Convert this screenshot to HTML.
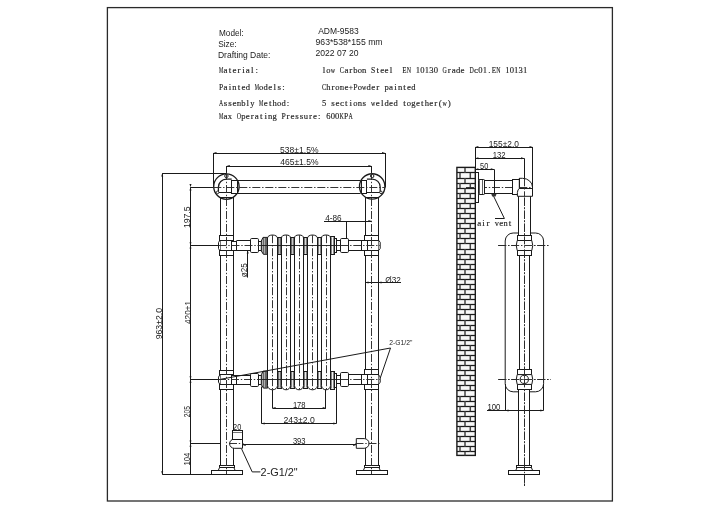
<!DOCTYPE html>
<html><head><meta charset="utf-8"><title>ADM-9583</title><style>
html,body{margin:0;padding:0;background:#fff;width:720px;height:509px;overflow:hidden}
svg{display:block;filter:blur(0.35px)}
.sans{font-family:"Liberation Sans",sans-serif;fill:#222}
.serif{font-family:"Liberation Serif",serif;fill:#1e1e1e;stroke:#1e1e1e;stroke-width:0.15}
.cl{stroke:#2a2a2a;stroke-width:0.95;stroke-dasharray:8 1.8 1.4 1.8}
</style></head><body>
<svg width="720" height="509" viewBox="0 0 720 509">
<rect x="0" y="0" width="720" height="509" fill="#fff"/>
<g stroke="#1a1a1a" fill="none" stroke-linecap="butt">
<rect x="107.4" y="7.6" width="505" height="493.4" fill="none" stroke="#2a2a2a" stroke-width="1.3"/>
</g>
<text x="219.0" y="35.5" class="sans" font-size="8.5" text-anchor="start" textLength="24.6" lengthAdjust="spacingAndGlyphs" >Model:</text>
<text x="218.2" y="46.7" class="sans" font-size="8.5" text-anchor="start" textLength="18.5" lengthAdjust="spacingAndGlyphs" >Size:</text>
<text x="217.95" y="58.3" class="sans" font-size="8.5" text-anchor="start" textLength="52.55" lengthAdjust="spacingAndGlyphs" >Drafting Date:</text>
<text x="318.2" y="33.7" class="sans" font-size="8.5" text-anchor="start" textLength="40.5" lengthAdjust="spacingAndGlyphs" >ADM-9583</text>
<text x="315.5" y="45.1" class="sans" font-size="8.5" text-anchor="start" textLength="67.1" lengthAdjust="spacingAndGlyphs" >963*538*155 mm</text>
<text x="315.5" y="56.2" class="sans" font-size="8.5" text-anchor="start" textLength="43.0" lengthAdjust="spacingAndGlyphs" >2022 07 20</text>
<text class="serif" font-size="9.0" text-anchor="middle" transform="translate(221.04 73.3) scale(0.536 1)">M</text>
<text class="serif" font-size="9.0" text-anchor="middle" x="225.51 229.98 234.45 238.92 243.39 247.86 252.33 256.8" y="73.3">aterial:</text>
<text class="serif" font-size="9.0" text-anchor="middle" transform="translate(328.5 73.3) scale(0.954 1)">o</text>
<text class="serif" font-size="9.0" text-anchor="middle" transform="translate(332.98 73.3) scale(0.66 1)">w</text>
<text class="serif" font-size="9.0" text-anchor="middle" transform="translate(341.92 73.3) scale(0.715 1)">C</text>
<text class="serif" font-size="9.0" text-anchor="middle" transform="translate(355.32 73.3) scale(0.954 1)">b</text>
<text class="serif" font-size="9.0" text-anchor="middle" transform="translate(359.8 73.3) scale(0.954 1)">o</text>
<text class="serif" font-size="9.0" text-anchor="middle" transform="translate(364.26 73.3) scale(0.954 1)">n</text>
<text class="serif" font-size="9.0" text-anchor="middle" transform="translate(373.2 73.3) scale(0.857 1)">S</text>
<text class="serif" font-size="9.0" text-anchor="middle" transform="translate(404.5 73.3) scale(0.781 1)">E</text>
<text class="serif" font-size="9.0" text-anchor="middle" transform="translate(408.97 73.3) scale(0.66 1)">N</text>
<text class="serif" font-size="9.0" text-anchor="middle" transform="translate(417.9 73.3) scale(0.954 1)">1</text>
<text class="serif" font-size="9.0" text-anchor="middle" transform="translate(422.38 73.3) scale(0.954 1)">0</text>
<text class="serif" font-size="9.0" text-anchor="middle" transform="translate(426.85 73.3) scale(0.954 1)">1</text>
<text class="serif" font-size="9.0" text-anchor="middle" transform="translate(431.31 73.3) scale(0.954 1)">3</text>
<text class="serif" font-size="9.0" text-anchor="middle" transform="translate(435.79 73.3) scale(0.954 1)">0</text>
<text class="serif" font-size="9.0" text-anchor="middle" transform="translate(444.73 73.3) scale(0.66 1)">G</text>
<text class="serif" font-size="9.0" text-anchor="middle" transform="translate(458.13 73.3) scale(0.954 1)">d</text>
<text class="serif" font-size="9.0" text-anchor="middle" transform="translate(471.55 73.3) scale(0.66 1)">D</text>
<text class="serif" font-size="9.0" text-anchor="middle" transform="translate(480.49 73.3) scale(0.954 1)">0</text>
<text class="serif" font-size="9.0" text-anchor="middle" transform="translate(484.96 73.3) scale(0.954 1)">1</text>
<text class="serif" font-size="9.0" text-anchor="middle" transform="translate(493.89 73.3) scale(0.781 1)">E</text>
<text class="serif" font-size="9.0" text-anchor="middle" transform="translate(498.37 73.3) scale(0.66 1)">N</text>
<text class="serif" font-size="9.0" text-anchor="middle" transform="translate(507.31 73.3) scale(0.954 1)">1</text>
<text class="serif" font-size="9.0" text-anchor="middle" transform="translate(511.77 73.3) scale(0.954 1)">0</text>
<text class="serif" font-size="9.0" text-anchor="middle" transform="translate(516.25 73.3) scale(0.954 1)">1</text>
<text class="serif" font-size="9.0" text-anchor="middle" transform="translate(520.72 73.3) scale(0.954 1)">3</text>
<text class="serif" font-size="9.0" text-anchor="middle" transform="translate(525.18 73.3) scale(0.954 1)">1</text>
<text class="serif" font-size="9.0" text-anchor="middle" x="324.04 346.38 350.86 377.68 382.14 386.62 391.09 449.19 453.66 462.61 476.01 489.43" y="73.3">larteelraec.</text>
<text class="serif" font-size="9.0" text-anchor="middle" transform="translate(221.04 90.1) scale(0.857 1)">P</text>
<text class="serif" font-size="9.0" text-anchor="middle" transform="translate(234.45 90.1) scale(0.954 1)">n</text>
<text class="serif" font-size="9.0" text-anchor="middle" transform="translate(247.86 90.1) scale(0.954 1)">d</text>
<text class="serif" font-size="9.0" text-anchor="middle" transform="translate(256.8 90.1) scale(0.536 1)">M</text>
<text class="serif" font-size="9.0" text-anchor="middle" transform="translate(261.26 90.1) scale(0.954 1)">o</text>
<text class="serif" font-size="9.0" text-anchor="middle" transform="translate(265.74 90.1) scale(0.954 1)">d</text>
<text class="serif" font-size="9.0" text-anchor="middle" x="225.51 229.98 238.92 243.39 270.2 274.68 279.14 283.62" y="90.1">aiteels:</text>
<text class="serif" font-size="9.0" text-anchor="middle" transform="translate(324.04 90.1) scale(0.715 1)">C</text>
<text class="serif" font-size="9.0" text-anchor="middle" transform="translate(328.5 90.1) scale(0.954 1)">h</text>
<text class="serif" font-size="9.0" text-anchor="middle" transform="translate(337.44 90.1) scale(0.954 1)">o</text>
<text class="serif" font-size="9.0" text-anchor="middle" transform="translate(341.92 90.1) scale(0.613 1)">m</text>
<text class="serif" font-size="9.0" text-anchor="middle" transform="translate(350.86 90.1) scale(0.845 1)">+</text>
<text class="serif" font-size="9.0" text-anchor="middle" transform="translate(355.32 90.1) scale(0.857 1)">P</text>
<text class="serif" font-size="9.0" text-anchor="middle" transform="translate(359.8 90.1) scale(0.954 1)">o</text>
<text class="serif" font-size="9.0" text-anchor="middle" transform="translate(364.26 90.1) scale(0.66 1)">w</text>
<text class="serif" font-size="9.0" text-anchor="middle" transform="translate(368.74 90.1) scale(0.954 1)">d</text>
<text class="serif" font-size="9.0" text-anchor="middle" transform="translate(386.62 90.1) scale(0.954 1)">p</text>
<text class="serif" font-size="9.0" text-anchor="middle" transform="translate(400.02 90.1) scale(0.954 1)">n</text>
<text class="serif" font-size="9.0" text-anchor="middle" transform="translate(413.44 90.1) scale(0.954 1)">d</text>
<text class="serif" font-size="9.0" text-anchor="middle" x="332.98 346.38 373.2 377.68 391.09 395.56 404.5 408.97" y="90.1">reeraite</text>
<text class="serif" font-size="9.0" text-anchor="middle" transform="translate(221.04 106.4) scale(0.66 1)">A</text>
<text class="serif" font-size="9.0" text-anchor="middle" transform="translate(238.92 106.4) scale(0.613 1)">m</text>
<text class="serif" font-size="9.0" text-anchor="middle" transform="translate(243.39 106.4) scale(0.954 1)">b</text>
<text class="serif" font-size="9.0" text-anchor="middle" transform="translate(252.33 106.4) scale(0.954 1)">y</text>
<text class="serif" font-size="9.0" text-anchor="middle" transform="translate(261.26 106.4) scale(0.536 1)">M</text>
<text class="serif" font-size="9.0" text-anchor="middle" transform="translate(274.68 106.4) scale(0.954 1)">h</text>
<text class="serif" font-size="9.0" text-anchor="middle" transform="translate(279.14 106.4) scale(0.954 1)">o</text>
<text class="serif" font-size="9.0" text-anchor="middle" transform="translate(283.62 106.4) scale(0.954 1)">d</text>
<text class="serif" font-size="9.0" text-anchor="middle" x="225.51 229.98 234.45 247.86 265.74 270.2 288.09" y="106.4">sselet:</text>
<text class="serif" font-size="9.0" text-anchor="middle" transform="translate(324.04 106.4) scale(0.954 1)">5</text>
<text class="serif" font-size="9.0" text-anchor="middle" transform="translate(355.32 106.4) scale(0.954 1)">o</text>
<text class="serif" font-size="9.0" text-anchor="middle" transform="translate(359.8 106.4) scale(0.954 1)">n</text>
<text class="serif" font-size="9.0" text-anchor="middle" transform="translate(373.2 106.4) scale(0.66 1)">w</text>
<text class="serif" font-size="9.0" text-anchor="middle" transform="translate(386.62 106.4) scale(0.954 1)">d</text>
<text class="serif" font-size="9.0" text-anchor="middle" transform="translate(395.56 106.4) scale(0.954 1)">d</text>
<text class="serif" font-size="9.0" text-anchor="middle" transform="translate(408.97 106.4) scale(0.954 1)">o</text>
<text class="serif" font-size="9.0" text-anchor="middle" transform="translate(413.44 106.4) scale(0.954 1)">g</text>
<text class="serif" font-size="9.0" text-anchor="middle" transform="translate(426.85 106.4) scale(0.954 1)">h</text>
<text class="serif" font-size="9.0" text-anchor="middle" transform="translate(444.73 106.4) scale(0.66 1)">w</text>
<text class="serif" font-size="9.0" text-anchor="middle" x="332.98 337.44 341.92 346.38 350.86 364.26 377.68 382.14 391.09 404.5 417.9 422.38 431.31 435.79 440.25 449.19" y="106.4">sectiseleteter()</text>
<text class="serif" font-size="9.0" text-anchor="middle" transform="translate(221.04 118.9) scale(0.536 1)">M</text>
<text class="serif" font-size="9.0" text-anchor="middle" transform="translate(229.98 118.9) scale(0.954 1)">x</text>
<text class="serif" font-size="9.0" text-anchor="middle" transform="translate(238.92 118.9) scale(0.66 1)">O</text>
<text class="serif" font-size="9.0" text-anchor="middle" transform="translate(243.39 118.9) scale(0.954 1)">p</text>
<text class="serif" font-size="9.0" text-anchor="middle" transform="translate(270.2 118.9) scale(0.954 1)">n</text>
<text class="serif" font-size="9.0" text-anchor="middle" transform="translate(274.68 118.9) scale(0.954 1)">g</text>
<text class="serif" font-size="9.0" text-anchor="middle" transform="translate(283.62 118.9) scale(0.857 1)">P</text>
<text class="serif" font-size="9.0" text-anchor="middle" transform="translate(305.97 118.9) scale(0.954 1)">u</text>
<text class="serif" font-size="9.0" text-anchor="middle" transform="translate(328.31 118.9) scale(0.954 1)">6</text>
<text class="serif" font-size="9.0" text-anchor="middle" transform="translate(332.79 118.9) scale(0.954 1)">0</text>
<text class="serif" font-size="9.0" text-anchor="middle" transform="translate(337.25 118.9) scale(0.954 1)">0</text>
<text class="serif" font-size="9.0" text-anchor="middle" transform="translate(341.73 118.9) scale(0.66 1)">K</text>
<text class="serif" font-size="9.0" text-anchor="middle" transform="translate(346.19 118.9) scale(0.857 1)">P</text>
<text class="serif" font-size="9.0" text-anchor="middle" transform="translate(350.66 118.9) scale(0.66 1)">A</text>
<text class="serif" font-size="9.0" text-anchor="middle" x="225.51 247.86 252.33 256.8 261.26 265.74 288.09 292.56 297.02 301.5 310.44 314.9 319.38" y="118.9">aeratiressre:</text>
<g stroke="#1a1a1a" fill="none" stroke-linecap="butt">
<line x1="213.3" y1="153.5" x2="385.2" y2="153.5" stroke-width="1.0" />
<polygon points="213.3,153.0 216.5,152.0 216.5,154.0" fill="#1a1a1a" stroke="none"/>
<polygon points="385.2,153.0 382.0,152.0 382.0,154.0" fill="#1a1a1a" stroke="none"/>
<line x1="213.5" y1="153.0" x2="213.5" y2="187.0" stroke-width="1.0" />
<line x1="385.5" y1="153.0" x2="385.5" y2="187.5" stroke-width="1.0" />
<line x1="226.6" y1="166.5" x2="371.6" y2="166.5" stroke-width="1.0" />
<polygon points="226.6,166.0 229.79999999999998,165.0 229.79999999999998,167.0" fill="#1a1a1a" stroke="none"/>
<polygon points="371.6,166.0 368.40000000000003,165.0 368.40000000000003,167.0" fill="#1a1a1a" stroke="none"/>
<line x1="226.5" y1="166.0" x2="226.5" y2="174.2" stroke-width="1.0" />
<line x1="371.5" y1="166.0" x2="371.5" y2="174.2" stroke-width="1.0" />
<line x1="162.5" y1="173.3" x2="162.5" y2="474.4" stroke-width="1.0" />
<polygon points="162.2,173.3 161.2,176.5 163.2,176.5" fill="#1a1a1a" stroke="none"/>
<polygon points="162.2,474.4 161.2,471.2 163.2,471.2" fill="#1a1a1a" stroke="none"/>
<line x1="162.2" y1="173.5" x2="226.0" y2="173.5" stroke-width="1.0" />
<line x1="162.2" y1="474.5" x2="211.5" y2="474.5" stroke-width="1.0" />
<line x1="190.5" y1="187.2" x2="190.5" y2="474.4" stroke-width="1.0" />
<polygon points="190.5,187.2 189.5,190.39999999999998 191.5,190.39999999999998" fill="#1a1a1a" stroke="none"/>
<polygon points="190.5,187.2 189.5,184.0 191.5,184.0" fill="#1a1a1a" stroke="none"/>
<polygon points="190.5,245.4 189.5,248.6 191.5,248.6" fill="#1a1a1a" stroke="none"/>
<polygon points="190.5,245.4 189.5,242.20000000000002 191.5,242.20000000000002" fill="#1a1a1a" stroke="none"/>
<polygon points="190.5,379.5 189.5,382.7 191.5,382.7" fill="#1a1a1a" stroke="none"/>
<polygon points="190.5,379.5 189.5,376.3 191.5,376.3" fill="#1a1a1a" stroke="none"/>
<polygon points="190.5,443.6 189.5,446.8 191.5,446.8" fill="#1a1a1a" stroke="none"/>
<polygon points="190.5,443.6 189.5,440.40000000000003 191.5,440.40000000000003" fill="#1a1a1a" stroke="none"/>
<line x1="190.5" y1="245.5" x2="218.5" y2="245.5" stroke-width="1.0" />
<line x1="190.5" y1="379.5" x2="218.0" y2="379.5" stroke-width="1.0" />
<line x1="190.5" y1="443.5" x2="220.4" y2="443.5" stroke-width="1.0" />
<line x1="190.5" y1="187.5" x2="213.3" y2="187.5" stroke-width="1.0" />
<line x1="324.0" y1="221.5" x2="371.6" y2="221.5" stroke-width="1.0" />
<polygon points="371.6,221.1 368.40000000000003,220.1 368.40000000000003,222.1" fill="#1a1a1a" stroke="none"/>
<line x1="346.5" y1="221.1" x2="346.5" y2="238.4" stroke-width="1.0" />
<line x1="365.3" y1="282.5" x2="401.0" y2="282.5" stroke-width="1.0" />
<polygon points="365.3,282.5 368.5,281.5 368.5,283.5" fill="#1a1a1a" stroke="none"/>
<polygon points="378.3,282.5 381.5,281.5 381.5,283.5" fill="#1a1a1a" stroke="none"/>
<line x1="247.5" y1="250.3" x2="247.5" y2="277.6" stroke-width="1.0" />
<polygon points="247.7,250.3 246.7,253.5 248.7,253.5" fill="#1a1a1a" stroke="none"/>
<line x1="272.5" y1="389.3" x2="272.5" y2="408.0" stroke-width="1.0" />
<line x1="325.5" y1="389.3" x2="325.5" y2="408.0" stroke-width="1.0" />
<line x1="272.4" y1="408.5" x2="325.9" y2="408.5" stroke-width="1.0" />
<polygon points="272.4,408.0 275.59999999999997,407.0 275.59999999999997,409.0" fill="#1a1a1a" stroke="none"/>
<polygon points="325.9,408.0 322.7,407.0 322.7,409.0" fill="#1a1a1a" stroke="none"/>
<line x1="261.5" y1="386.5" x2="261.5" y2="423.4" stroke-width="1.0" />
<line x1="336.5" y1="387.0" x2="336.5" y2="423.4" stroke-width="1.0" />
<line x1="261.4" y1="423.5" x2="336.6" y2="423.5" stroke-width="1.0" />
<polygon points="261.4,423.4 264.59999999999997,422.4 264.59999999999997,424.4" fill="#1a1a1a" stroke="none"/>
<polygon points="336.6,423.4 333.40000000000003,422.4 333.40000000000003,424.4" fill="#1a1a1a" stroke="none"/>
<line x1="242.5" y1="444.5" x2="356.3" y2="444.5" stroke-width="1.0" />
<polygon points="242.5,444.9 245.7,443.9 245.7,445.9" fill="#1a1a1a" stroke="none"/>
<polygon points="356.3,444.9 353.1,443.9 353.1,445.9" fill="#1a1a1a" stroke="none"/>
<line x1="237.5" y1="180.5" x2="360.6" y2="180.5" stroke-width="1.0" />
<line x1="237.5" y1="193.5" x2="360.6" y2="193.5" stroke-width="1.0" />
<circle cx="226.4" cy="186.6" r="12.7" fill="#fff" stroke-width="1.35"/>
<path d="M218.4,192.2 L218.4,187.2 A8,8 0 0 1 226.4,179.2 L231.70000000000002,179.2" fill="none" stroke-width="1.25" />
<rect x="231.5" y="180.5" width="6.0" height="13.0" fill="#fff" stroke-width="1.0" />
<line x1="218.4" y1="192.5" x2="231.70000000000002" y2="192.5" stroke-width="1.0" />
<line x1="220.20000000000002" y1="197.5" x2="233.6" y2="197.5" stroke-width="1.0" />
<circle cx="217.6" cy="192.4" r="1.3" fill="#fff" stroke-width="0.9"/>
<circle cx="226.4" cy="176.0" r="1.7" fill="#fff" stroke-width="1.0"/>
<circle cx="372.2" cy="186.4" r="12.7" fill="#fff" stroke-width="1.35"/>
<path d="M380.2,192.0 L380.2,187.0 A8,8 0 0 0 372.2,179.0 L366.9,179.0" fill="none" stroke-width="1.25" />
<rect x="361.5" y="180.5" width="5.0" height="13.0" fill="#fff" stroke-width="1.0" />
<line x1="366.9" y1="192.5" x2="380.2" y2="192.5" stroke-width="1.0" />
<line x1="365.0" y1="197.5" x2="378.4" y2="197.5" stroke-width="1.0" />
<circle cx="381.0" cy="192.4" r="1.3" fill="#fff" stroke-width="0.9"/>
<circle cx="372.2" cy="176.0" r="1.7" fill="#fff" stroke-width="1.0"/>
<line x1="220.5" y1="197.2" x2="220.5" y2="235.5" stroke-width="1.0" />
<line x1="233.5" y1="197.2" x2="233.5" y2="235.5" stroke-width="1.0" />
<line x1="220.5" y1="255.4" x2="220.5" y2="370.0" stroke-width="1.0" />
<line x1="233.5" y1="255.4" x2="233.5" y2="370.0" stroke-width="1.0" />
<line x1="220.5" y1="389.0" x2="220.5" y2="465.4" stroke-width="1.0" />
<line x1="233.5" y1="389.0" x2="233.5" y2="465.4" stroke-width="1.0" />
<line x1="365.5" y1="197.2" x2="365.5" y2="235.5" stroke-width="1.0" />
<line x1="378.5" y1="197.2" x2="378.5" y2="235.5" stroke-width="1.0" />
<line x1="365.5" y1="255.4" x2="365.5" y2="370.0" stroke-width="1.0" />
<line x1="378.5" y1="255.4" x2="378.5" y2="370.0" stroke-width="1.0" />
<line x1="365.5" y1="389.0" x2="365.5" y2="465.4" stroke-width="1.0" />
<line x1="378.5" y1="389.0" x2="378.5" y2="465.4" stroke-width="1.0" />
<rect x="219.5" y="235.5" width="14.0" height="5.0" fill="#fff" stroke-width="1.0" />
<rect x="219.5" y="250.5" width="14.0" height="5.0" fill="#fff" stroke-width="1.0" />
<path d="M219.8,240.4 L218.5,242.6 L218.5,248.50000000000003 L219.8,250.70000000000002" fill="none" stroke-width="1.0" />
<line x1="220.5" y1="240.4" x2="220.5" y2="250.70000000000002" stroke-width="0.6" />
<line x1="233.5" y1="240.4" x2="233.5" y2="250.70000000000002" stroke-width="0.6" />
<rect x="364.5" y="235.5" width="14.0" height="5.0" fill="#fff" stroke-width="1.0" />
<rect x="364.5" y="250.5" width="14.0" height="5.0" fill="#fff" stroke-width="1.0" />
<path d="M378.5,240.1 L380.2,242.29999999999998 L380.2,248.40000000000003 L378.5,250.60000000000002" fill="none" stroke-width="1.0" />
<line x1="365.5" y1="240.1" x2="365.5" y2="250.60000000000002" stroke-width="0.6" />
<line x1="378.5" y1="240.1" x2="378.5" y2="250.60000000000002" stroke-width="0.6" />
<rect x="219.5" y="370.5" width="14.0" height="4.0" fill="#fff" stroke-width="1.0" />
<rect x="219.5" y="384.5" width="14.0" height="5.0" fill="#fff" stroke-width="1.0" />
<path d="M219.8,374.9 L218.5,377.09999999999997 L218.5,382.1 L219.8,384.3" fill="none" stroke-width="1.0" />
<line x1="220.5" y1="374.9" x2="220.5" y2="384.3" stroke-width="0.6" />
<line x1="233.5" y1="374.9" x2="233.5" y2="384.3" stroke-width="0.6" />
<rect x="364.5" y="369.5" width="14.0" height="5.0" fill="#fff" stroke-width="1.0" />
<rect x="364.5" y="384.5" width="14.0" height="5.0" fill="#fff" stroke-width="1.0" />
<path d="M378.5,374.79999999999995 L380.2,376.99999999999994 L380.2,382.20000000000005 L378.5,384.40000000000003" fill="none" stroke-width="1.0" />
<line x1="365.5" y1="374.79999999999995" x2="365.5" y2="384.40000000000003" stroke-width="0.6" />
<line x1="378.5" y1="374.79999999999995" x2="378.5" y2="384.40000000000003" stroke-width="0.6" />
<rect x="231.5" y="241.5" width="5.0" height="9.0" fill="#fff" stroke-width="1.0" />
<line x1="236.4" y1="240.5" x2="250.4" y2="240.5" stroke-width="1.0" />
<line x1="236.4" y1="250.5" x2="250.4" y2="250.5" stroke-width="1.0" />
<rect x="250.5" y="238.5" width="8.0" height="14.0" fill="#fff" stroke-width="1.0" rx="1.2" />
<rect x="258.5" y="241.5" width="3.0" height="9.0" fill="#fff" stroke-width="1.0" />
<rect x="361.5" y="240.5" width="6.0" height="10.0" fill="#fff" stroke-width="1.0" />
<line x1="348.1" y1="240.5" x2="361.8" y2="240.5" stroke-width="1.0" />
<line x1="348.1" y1="250.5" x2="361.8" y2="250.5" stroke-width="1.0" />
<rect x="340.5" y="238.5" width="8.0" height="14.0" fill="#fff" stroke-width="1.0" rx="1.2" />
<rect x="336.5" y="240.5" width="4.0" height="10.0" fill="#fff" stroke-width="1.0" />
<rect x="231.5" y="375.5" width="5.0" height="9.0" fill="#fff" stroke-width="1.0" />
<line x1="236.4" y1="375.5" x2="250.4" y2="375.5" stroke-width="1.0" />
<line x1="236.4" y1="384.5" x2="250.4" y2="384.5" stroke-width="1.0" />
<rect x="250.5" y="373.5" width="8.0" height="13.0" fill="#fff" stroke-width="1.0" rx="1.2" />
<rect x="258.5" y="375.5" width="3.0" height="9.0" fill="#fff" stroke-width="1.0" />
<rect x="361.5" y="374.5" width="6.0" height="10.0" fill="#fff" stroke-width="1.0" />
<line x1="348.1" y1="374.5" x2="361.8" y2="374.5" stroke-width="1.0" />
<line x1="348.1" y1="384.5" x2="361.8" y2="384.5" stroke-width="1.0" />
<rect x="340.5" y="372.5" width="8.0" height="14.0" fill="#fff" stroke-width="1.0" rx="1.2" />
<rect x="336.5" y="375.5" width="4.0" height="8.0" fill="#fff" stroke-width="1.0" />
<rect x="277.5" y="237.5" width="4.0" height="17.0" fill="#b8b8b8" stroke-width="1.0" />
<line x1="278.5" y1="237.8" x2="278.5" y2="253.8" stroke-width="0.5" />
<line x1="280.5" y1="237.8" x2="280.5" y2="253.8" stroke-width="0.5" />
<rect x="277.5" y="371.5" width="4.0" height="17.0" fill="#c8c8c8" stroke-width="1.0" />
<line x1="278.5" y1="371.6" x2="278.5" y2="387.5" stroke-width="0.5" />
<line x1="280.5" y1="371.6" x2="280.5" y2="387.5" stroke-width="0.5" />
<rect x="290.5" y="237.5" width="4.0" height="17.0" fill="#c8c8c8" stroke-width="1.0" />
<line x1="291.5" y1="237.8" x2="291.5" y2="253.8" stroke-width="0.5" />
<line x1="293.5" y1="237.8" x2="293.5" y2="253.8" stroke-width="0.5" />
<rect x="290.5" y="371.5" width="4.0" height="17.0" fill="#e4e4e4" stroke-width="1.0" />
<line x1="291.5" y1="371.6" x2="291.5" y2="387.5" stroke-width="0.5" />
<line x1="293.5" y1="371.6" x2="293.5" y2="387.5" stroke-width="0.5" />
<rect x="303.5" y="237.5" width="4.0" height="17.0" fill="#d8d8d8" stroke-width="1.0" />
<line x1="304.5" y1="237.8" x2="304.5" y2="253.8" stroke-width="0.5" />
<line x1="306.5" y1="237.8" x2="306.5" y2="253.8" stroke-width="0.5" />
<rect x="303.5" y="371.5" width="4.0" height="17.0" fill="#eeeeee" stroke-width="1.0" />
<line x1="304.5" y1="371.6" x2="304.5" y2="387.5" stroke-width="0.5" />
<line x1="306.5" y1="371.6" x2="306.5" y2="387.5" stroke-width="0.5" />
<rect x="317.5" y="237.5" width="4.0" height="17.0" fill="#f0f0f0" stroke-width="1.0" />
<line x1="318.5" y1="237.8" x2="318.5" y2="253.8" stroke-width="0.5" />
<line x1="320.5" y1="237.8" x2="320.5" y2="253.8" stroke-width="0.5" />
<rect x="317.5" y="371.5" width="4.0" height="17.0" fill="#f6f6f6" stroke-width="1.0" />
<line x1="318.5" y1="371.6" x2="318.5" y2="387.5" stroke-width="0.5" />
<line x1="320.5" y1="371.6" x2="320.5" y2="387.5" stroke-width="0.5" />
<polygon points="261.3,241.0 263.0,237.4 267.6,237.4 267.6,254.3 263.4,254.3 261.3,250.9" fill="#b0b0b0" stroke-width="1.0"/>
<line x1="263.5" y1="237.9" x2="263.5" y2="253.8" stroke-width="0.5" />
<line x1="265.5" y1="237.9" x2="265.5" y2="253.8" stroke-width="0.5" />
<line x1="266.5" y1="237.9" x2="266.5" y2="253.8" stroke-width="0.5" />
<polygon points="261.3,374.8 263.0,371.20000000000005 267.6,371.20000000000005 267.6,388.1 263.4,388.1 261.3,384.70000000000005" fill="#b0b0b0" stroke-width="1.0"/>
<line x1="263.5" y1="371.70000000000005" x2="263.5" y2="387.6" stroke-width="0.5" />
<line x1="265.5" y1="371.70000000000005" x2="265.5" y2="387.6" stroke-width="0.5" />
<line x1="266.5" y1="371.70000000000005" x2="266.5" y2="387.6" stroke-width="0.5" />
<rect x="330.5" y="236.5" width="4.0" height="18.0" fill="#f4f4f4" stroke-width="1.0" />
<line x1="331.5" y1="237.3" x2="331.5" y2="253.9" stroke-width="0.5" />
<line x1="333.5" y1="237.3" x2="333.5" y2="253.9" stroke-width="0.5" />
<rect x="334.5" y="238.5" width="2.0" height="14.0" fill="#fff" stroke-width="1.0" />
<rect x="330.5" y="371.5" width="4.0" height="18.0" fill="#f4f4f4" stroke-width="1.0" />
<line x1="331.5" y1="371.9" x2="331.5" y2="388.5" stroke-width="0.5" />
<line x1="333.5" y1="371.9" x2="333.5" y2="388.5" stroke-width="0.5" />
<rect x="334.5" y="373.5" width="2.0" height="14.0" fill="#fff" stroke-width="1.0" />
<path d="M267.5,385.5 L267.5,238.0 A5.0,3 0 0 1 277.5,238.0 L277.5,385.5 A5.0,4.3 0 0 1 267.5,385.5 Z" fill="#fff" stroke-width="1.0" />
<line x1="272.5" y1="235.2" x2="272.5" y2="389.6" class="cl"/>
<path d="M281.5,385.5 L281.5,238.0 A4.5,3 0 0 1 290.5,238.0 L290.5,385.5 A4.5,4.3 0 0 1 281.5,385.5 Z" fill="#fff" stroke-width="1.0" />
<line x1="286.5" y1="235.2" x2="286.5" y2="389.6" class="cl"/>
<path d="M294.5,385.5 L294.5,238.0 A4.5,3 0 0 1 303.5,238.0 L303.5,385.5 A4.5,4.3 0 0 1 294.5,385.5 Z" fill="#fff" stroke-width="1.0" />
<line x1="299.5" y1="235.2" x2="299.5" y2="389.6" class="cl"/>
<path d="M307.5,385.5 L307.5,238.0 A5.0,3 0 0 1 317.5,238.0 L317.5,385.5 A5.0,4.3 0 0 1 307.5,385.5 Z" fill="#fff" stroke-width="1.0" />
<line x1="312.5" y1="235.2" x2="312.5" y2="389.6" class="cl"/>
<path d="M321.5,385.5 L321.5,238.0 A4.5,3 0 0 1 330.5,238.0 L330.5,385.5 A4.5,4.3 0 0 1 321.5,385.5 Z" fill="#fff" stroke-width="1.0" />
<line x1="326.5" y1="235.2" x2="326.5" y2="389.6" class="cl"/>
<line x1="261.4" y1="245.5" x2="340.3" y2="245.5" stroke-width="0.9" />
<line x1="261.4" y1="379.5" x2="340.3" y2="379.5" stroke-width="0.9" />
<rect x="219.5" y="465.5" width="15.0" height="2.0" fill="#fff" stroke-width="1.0" />
<polygon points="219.60000000000002,467.5 233.8,467.5 235.20000000000002,470.5 218.20000000000002,470.5" fill="#fff" stroke-width="1.0"/>
<rect x="211.5" y="470.5" width="31.0" height="4.0" fill="#fff" stroke-width="1.0" />
<rect x="364.5" y="465.5" width="15.0" height="2.0" fill="#fff" stroke-width="1.0" />
<polygon points="364.7,467.5 378.9,467.5 380.29999999999995,470.5 363.29999999999995,470.5" fill="#fff" stroke-width="1.0"/>
<rect x="356.5" y="470.5" width="31.0" height="4.0" fill="#fff" stroke-width="1.0" />
<line x1="213.3" y1="187.5" x2="384.6" y2="187.5" class="cl"/>
<line x1="226.5" y1="172" x2="226.5" y2="474" class="cl"/>
<line x1="371.5" y1="172" x2="371.5" y2="474" class="cl"/>
<line x1="218.5" y1="245.5" x2="261.4" y2="245.5" class="cl"/>
<line x1="340.3" y1="245.5" x2="380.0" y2="245.5" class="cl"/>
<line x1="218.0" y1="379.5" x2="261.4" y2="379.5" class="cl"/>
<line x1="340.3" y1="379.5" x2="380.0" y2="379.5" class="cl"/>
<path d="M221,379.2 L390.5,348 L380.2,378.2" fill="none" stroke-width="1.0" />
<path d="M241.6,448.9 L252.2,471.9 L260.4,471.9" fill="none" stroke-width="1.0" />
<path d="M242.5,439.1 L234.2,439.1 A4.6,4.6 0 0 0 234.2,448.3 L242.5,448.3 Z" fill="#fff" stroke-width="1.0" />
<rect x="232.5" y="430.5" width="10.0" height="9.0" fill="#fff" stroke-width="1.0" />
<line x1="232.7" y1="432.5" x2="242.5" y2="432.5" stroke-width="0.6" />
<path d="M356.3,438.6 L364.2,438.6 A4.85,4.85 0 0 1 364.2,448.3 L356.3,448.3 Z" fill="#fff" stroke-width="1.0" />
<line x1="229.0" y1="443.5" x2="243.5" y2="443.5" class="cl"/>
<line x1="355.5" y1="443.5" x2="379.5" y2="443.5" class="cl"/>
<rect x="456.9" y="167.4" width="18.4" height="288.0" fill="#f8f8f8" stroke-width="1.4"/>
<line x1="456.9" y1="172.5" x2="475.3" y2="172.5" stroke-width="1.25"/>
<line x1="456.9" y1="178.5" x2="475.3" y2="178.5" stroke-width="1.25"/>
<line x1="456.9" y1="183.5" x2="475.3" y2="183.5" stroke-width="1.25"/>
<line x1="456.9" y1="188.5" x2="475.3" y2="188.5" stroke-width="1.25"/>
<line x1="456.9" y1="193.5" x2="475.3" y2="193.5" stroke-width="1.25"/>
<line x1="456.9" y1="198.5" x2="475.3" y2="198.5" stroke-width="1.25"/>
<line x1="456.9" y1="203.5" x2="475.3" y2="203.5" stroke-width="1.25"/>
<line x1="456.9" y1="208.5" x2="475.3" y2="208.5" stroke-width="1.25"/>
<line x1="456.9" y1="213.5" x2="475.3" y2="213.5" stroke-width="1.25"/>
<line x1="456.9" y1="218.5" x2="475.3" y2="218.5" stroke-width="1.25"/>
<line x1="456.9" y1="223.5" x2="475.3" y2="223.5" stroke-width="1.25"/>
<line x1="456.9" y1="228.5" x2="475.3" y2="228.5" stroke-width="1.25"/>
<line x1="456.9" y1="233.5" x2="475.3" y2="233.5" stroke-width="1.25"/>
<line x1="456.9" y1="238.5" x2="475.3" y2="238.5" stroke-width="1.25"/>
<line x1="456.9" y1="243.5" x2="475.3" y2="243.5" stroke-width="1.25"/>
<line x1="456.9" y1="249.5" x2="475.3" y2="249.5" stroke-width="1.25"/>
<line x1="456.9" y1="254.5" x2="475.3" y2="254.5" stroke-width="1.25"/>
<line x1="456.9" y1="259.5" x2="475.3" y2="259.5" stroke-width="1.25"/>
<line x1="456.9" y1="264.5" x2="475.3" y2="264.5" stroke-width="1.25"/>
<line x1="456.9" y1="269.5" x2="475.3" y2="269.5" stroke-width="1.25"/>
<line x1="456.9" y1="274.5" x2="475.3" y2="274.5" stroke-width="1.25"/>
<line x1="456.9" y1="279.5" x2="475.3" y2="279.5" stroke-width="1.25"/>
<line x1="456.9" y1="284.5" x2="475.3" y2="284.5" stroke-width="1.25"/>
<line x1="456.9" y1="289.5" x2="475.3" y2="289.5" stroke-width="1.25"/>
<line x1="456.9" y1="294.5" x2="475.3" y2="294.5" stroke-width="1.25"/>
<line x1="456.9" y1="299.5" x2="475.3" y2="299.5" stroke-width="1.25"/>
<line x1="456.9" y1="304.5" x2="475.3" y2="304.5" stroke-width="1.25"/>
<line x1="456.9" y1="309.5" x2="475.3" y2="309.5" stroke-width="1.25"/>
<line x1="456.9" y1="314.5" x2="475.3" y2="314.5" stroke-width="1.25"/>
<line x1="456.9" y1="320.5" x2="475.3" y2="320.5" stroke-width="1.25"/>
<line x1="456.9" y1="325.5" x2="475.3" y2="325.5" stroke-width="1.25"/>
<line x1="456.9" y1="330.5" x2="475.3" y2="330.5" stroke-width="1.25"/>
<line x1="456.9" y1="335.5" x2="475.3" y2="335.5" stroke-width="1.25"/>
<line x1="456.9" y1="340.5" x2="475.3" y2="340.5" stroke-width="1.25"/>
<line x1="456.9" y1="345.5" x2="475.3" y2="345.5" stroke-width="1.25"/>
<line x1="456.9" y1="350.5" x2="475.3" y2="350.5" stroke-width="1.25"/>
<line x1="456.9" y1="355.5" x2="475.3" y2="355.5" stroke-width="1.25"/>
<line x1="456.9" y1="360.5" x2="475.3" y2="360.5" stroke-width="1.25"/>
<line x1="456.9" y1="365.5" x2="475.3" y2="365.5" stroke-width="1.25"/>
<line x1="456.9" y1="370.5" x2="475.3" y2="370.5" stroke-width="1.25"/>
<line x1="456.9" y1="375.5" x2="475.3" y2="375.5" stroke-width="1.25"/>
<line x1="456.9" y1="380.5" x2="475.3" y2="380.5" stroke-width="1.25"/>
<line x1="456.9" y1="385.5" x2="475.3" y2="385.5" stroke-width="1.25"/>
<line x1="456.9" y1="390.5" x2="475.3" y2="390.5" stroke-width="1.25"/>
<line x1="456.9" y1="396.5" x2="475.3" y2="396.5" stroke-width="1.25"/>
<line x1="456.9" y1="401.5" x2="475.3" y2="401.5" stroke-width="1.25"/>
<line x1="456.9" y1="406.5" x2="475.3" y2="406.5" stroke-width="1.25"/>
<line x1="456.9" y1="411.5" x2="475.3" y2="411.5" stroke-width="1.25"/>
<line x1="456.9" y1="416.5" x2="475.3" y2="416.5" stroke-width="1.25"/>
<line x1="456.9" y1="421.5" x2="475.3" y2="421.5" stroke-width="1.25"/>
<line x1="456.9" y1="426.5" x2="475.3" y2="426.5" stroke-width="1.25"/>
<line x1="456.9" y1="431.5" x2="475.3" y2="431.5" stroke-width="1.25"/>
<line x1="456.9" y1="436.5" x2="475.3" y2="436.5" stroke-width="1.25"/>
<line x1="456.9" y1="441.5" x2="475.3" y2="441.5" stroke-width="1.25"/>
<line x1="456.9" y1="446.5" x2="475.3" y2="446.5" stroke-width="1.25"/>
<line x1="456.9" y1="451.5" x2="475.3" y2="451.5" stroke-width="1.25"/>
<line x1="465.0" y1="167.9" x2="465.0" y2="172.97" stroke-width="1.5" stroke="#444"/>
<line x1="460.0" y1="172.97" x2="460.0" y2="178.04" stroke-width="1.5" stroke="#444"/>
<line x1="470.3" y1="172.97" x2="470.3" y2="178.04" stroke-width="1.5" stroke="#444"/>
<line x1="465.0" y1="178.04" x2="465.0" y2="183.11" stroke-width="1.5" stroke="#444"/>
<line x1="460.0" y1="183.11" x2="460.0" y2="188.18" stroke-width="1.5" stroke="#444"/>
<line x1="470.3" y1="183.11" x2="470.3" y2="188.18" stroke-width="1.5" stroke="#444"/>
<line x1="465.0" y1="188.18" x2="465.0" y2="193.25" stroke-width="1.5" stroke="#444"/>
<line x1="460.0" y1="193.25" x2="460.0" y2="198.32" stroke-width="1.5" stroke="#444"/>
<line x1="470.3" y1="193.25" x2="470.3" y2="198.32" stroke-width="1.5" stroke="#444"/>
<line x1="465.0" y1="198.32" x2="465.0" y2="203.39" stroke-width="1.5" stroke="#444"/>
<line x1="460.0" y1="203.39" x2="460.0" y2="208.46" stroke-width="1.5" stroke="#444"/>
<line x1="470.3" y1="203.39" x2="470.3" y2="208.46" stroke-width="1.5" stroke="#444"/>
<line x1="465.0" y1="208.46" x2="465.0" y2="213.53" stroke-width="1.5" stroke="#444"/>
<line x1="460.0" y1="213.53" x2="460.0" y2="218.6" stroke-width="1.5" stroke="#444"/>
<line x1="470.3" y1="213.53" x2="470.3" y2="218.6" stroke-width="1.5" stroke="#444"/>
<line x1="465.0" y1="218.6" x2="465.0" y2="223.67" stroke-width="1.5" stroke="#444"/>
<line x1="460.0" y1="223.67" x2="460.0" y2="228.74" stroke-width="1.5" stroke="#444"/>
<line x1="470.3" y1="223.67" x2="470.3" y2="228.74" stroke-width="1.5" stroke="#444"/>
<line x1="465.0" y1="228.74" x2="465.0" y2="233.81" stroke-width="1.5" stroke="#444"/>
<line x1="460.0" y1="233.81" x2="460.0" y2="238.88" stroke-width="1.5" stroke="#444"/>
<line x1="470.3" y1="233.81" x2="470.3" y2="238.88" stroke-width="1.5" stroke="#444"/>
<line x1="465.0" y1="238.88" x2="465.0" y2="243.95" stroke-width="1.5" stroke="#444"/>
<line x1="460.0" y1="243.95" x2="460.0" y2="249.02" stroke-width="1.5" stroke="#444"/>
<line x1="470.3" y1="243.95" x2="470.3" y2="249.02" stroke-width="1.5" stroke="#444"/>
<line x1="465.0" y1="249.02" x2="465.0" y2="254.09" stroke-width="1.5" stroke="#444"/>
<line x1="460.0" y1="254.09" x2="460.0" y2="259.16" stroke-width="1.5" stroke="#444"/>
<line x1="470.3" y1="254.09" x2="470.3" y2="259.16" stroke-width="1.5" stroke="#444"/>
<line x1="465.0" y1="259.16" x2="465.0" y2="264.23" stroke-width="1.5" stroke="#444"/>
<line x1="460.0" y1="264.23" x2="460.0" y2="269.3" stroke-width="1.5" stroke="#444"/>
<line x1="470.3" y1="264.23" x2="470.3" y2="269.3" stroke-width="1.5" stroke="#444"/>
<line x1="465.0" y1="269.3" x2="465.0" y2="274.37" stroke-width="1.5" stroke="#444"/>
<line x1="460.0" y1="274.37" x2="460.0" y2="279.44" stroke-width="1.5" stroke="#444"/>
<line x1="470.3" y1="274.37" x2="470.3" y2="279.44" stroke-width="1.5" stroke="#444"/>
<line x1="465.0" y1="279.44" x2="465.0" y2="284.51" stroke-width="1.5" stroke="#444"/>
<line x1="460.0" y1="284.51" x2="460.0" y2="289.58" stroke-width="1.5" stroke="#444"/>
<line x1="470.3" y1="284.51" x2="470.3" y2="289.58" stroke-width="1.5" stroke="#444"/>
<line x1="465.0" y1="289.58" x2="465.0" y2="294.65" stroke-width="1.5" stroke="#444"/>
<line x1="460.0" y1="294.65" x2="460.0" y2="299.72" stroke-width="1.5" stroke="#444"/>
<line x1="470.3" y1="294.65" x2="470.3" y2="299.72" stroke-width="1.5" stroke="#444"/>
<line x1="465.0" y1="299.72" x2="465.0" y2="304.79" stroke-width="1.5" stroke="#444"/>
<line x1="460.0" y1="304.79" x2="460.0" y2="309.86" stroke-width="1.5" stroke="#444"/>
<line x1="470.3" y1="304.79" x2="470.3" y2="309.86" stroke-width="1.5" stroke="#444"/>
<line x1="465.0" y1="309.86" x2="465.0" y2="314.93" stroke-width="1.5" stroke="#444"/>
<line x1="460.0" y1="314.93" x2="460.0" y2="320.0" stroke-width="1.5" stroke="#444"/>
<line x1="470.3" y1="314.93" x2="470.3" y2="320.0" stroke-width="1.5" stroke="#444"/>
<line x1="465.0" y1="320.0" x2="465.0" y2="325.07" stroke-width="1.5" stroke="#444"/>
<line x1="460.0" y1="325.07" x2="460.0" y2="330.14" stroke-width="1.5" stroke="#444"/>
<line x1="470.3" y1="325.07" x2="470.3" y2="330.14" stroke-width="1.5" stroke="#444"/>
<line x1="465.0" y1="330.14" x2="465.0" y2="335.21" stroke-width="1.5" stroke="#444"/>
<line x1="460.0" y1="335.21" x2="460.0" y2="340.28" stroke-width="1.5" stroke="#444"/>
<line x1="470.3" y1="335.21" x2="470.3" y2="340.28" stroke-width="1.5" stroke="#444"/>
<line x1="465.0" y1="340.28" x2="465.0" y2="345.35" stroke-width="1.5" stroke="#444"/>
<line x1="460.0" y1="345.35" x2="460.0" y2="350.42" stroke-width="1.5" stroke="#444"/>
<line x1="470.3" y1="345.35" x2="470.3" y2="350.42" stroke-width="1.5" stroke="#444"/>
<line x1="465.0" y1="350.42" x2="465.0" y2="355.49" stroke-width="1.5" stroke="#444"/>
<line x1="460.0" y1="355.49" x2="460.0" y2="360.56" stroke-width="1.5" stroke="#444"/>
<line x1="470.3" y1="355.49" x2="470.3" y2="360.56" stroke-width="1.5" stroke="#444"/>
<line x1="465.0" y1="360.56" x2="465.0" y2="365.63" stroke-width="1.5" stroke="#444"/>
<line x1="460.0" y1="365.63" x2="460.0" y2="370.7" stroke-width="1.5" stroke="#444"/>
<line x1="470.3" y1="365.63" x2="470.3" y2="370.7" stroke-width="1.5" stroke="#444"/>
<line x1="465.0" y1="370.7" x2="465.0" y2="375.77" stroke-width="1.5" stroke="#444"/>
<line x1="460.0" y1="375.77" x2="460.0" y2="380.84" stroke-width="1.5" stroke="#444"/>
<line x1="470.3" y1="375.77" x2="470.3" y2="380.84" stroke-width="1.5" stroke="#444"/>
<line x1="465.0" y1="380.84" x2="465.0" y2="385.91" stroke-width="1.5" stroke="#444"/>
<line x1="460.0" y1="385.91" x2="460.0" y2="390.98" stroke-width="1.5" stroke="#444"/>
<line x1="470.3" y1="385.91" x2="470.3" y2="390.98" stroke-width="1.5" stroke="#444"/>
<line x1="465.0" y1="390.98" x2="465.0" y2="396.05" stroke-width="1.5" stroke="#444"/>
<line x1="460.0" y1="396.05" x2="460.0" y2="401.12" stroke-width="1.5" stroke="#444"/>
<line x1="470.3" y1="396.05" x2="470.3" y2="401.12" stroke-width="1.5" stroke="#444"/>
<line x1="465.0" y1="401.12" x2="465.0" y2="406.19" stroke-width="1.5" stroke="#444"/>
<line x1="460.0" y1="406.19" x2="460.0" y2="411.26" stroke-width="1.5" stroke="#444"/>
<line x1="470.3" y1="406.19" x2="470.3" y2="411.26" stroke-width="1.5" stroke="#444"/>
<line x1="465.0" y1="411.26" x2="465.0" y2="416.33" stroke-width="1.5" stroke="#444"/>
<line x1="460.0" y1="416.33" x2="460.0" y2="421.4" stroke-width="1.5" stroke="#444"/>
<line x1="470.3" y1="416.33" x2="470.3" y2="421.4" stroke-width="1.5" stroke="#444"/>
<line x1="465.0" y1="421.4" x2="465.0" y2="426.47" stroke-width="1.5" stroke="#444"/>
<line x1="460.0" y1="426.47" x2="460.0" y2="431.54" stroke-width="1.5" stroke="#444"/>
<line x1="470.3" y1="426.47" x2="470.3" y2="431.54" stroke-width="1.5" stroke="#444"/>
<line x1="465.0" y1="431.54" x2="465.0" y2="436.61" stroke-width="1.5" stroke="#444"/>
<line x1="460.0" y1="436.61" x2="460.0" y2="441.68" stroke-width="1.5" stroke="#444"/>
<line x1="470.3" y1="436.61" x2="470.3" y2="441.68" stroke-width="1.5" stroke="#444"/>
<line x1="465.0" y1="441.68" x2="465.0" y2="446.75" stroke-width="1.5" stroke="#444"/>
<line x1="460.0" y1="446.75" x2="460.0" y2="451.82" stroke-width="1.5" stroke="#444"/>
<line x1="470.3" y1="446.75" x2="470.3" y2="451.82" stroke-width="1.5" stroke="#444"/>
<line x1="465.0" y1="451.82" x2="465.0" y2="455.4" stroke-width="1.5" stroke="#444"/>
<line x1="524.5" y1="172" x2="524.5" y2="486" class="cl"/>
<line x1="466" y1="187.5" x2="533" y2="187.5" class="cl"/>
<line x1="498.2" y1="245.5" x2="550.0" y2="245.5" class="cl"/>
<line x1="498.3" y1="379.5" x2="550.7" y2="379.5" class="cl"/>
<path d="M518.5,233 L513.2,233 A8,8 0 0 0 505.2,241 L505.2,383.8 A8,8 0 0 0 513.2,391.8 L518.9,391.8 M529.9,391.8 L535.6,391.8 A8,8 0 0 0 543.6,383.8 L543.6,241 A8,8 0 0 0 535.6,233 L530.4,233" fill="none" stroke-width="1.0" />
<rect x="475.5" y="172.5" width="3.0" height="30.0" fill="#fff" stroke-width="1.0" />
<rect x="478.5" y="179.5" width="6.0" height="15.0" fill="#fff" stroke-width="1.0" rx="0.8" />
<line x1="479.5" y1="179.3" x2="479.5" y2="194.2" stroke-width="0.7" />
<line x1="482.5" y1="179.3" x2="482.5" y2="194.2" stroke-width="0.7" />
<line x1="484.2" y1="180.5" x2="512.5" y2="180.5" stroke-width="1.0" />
<line x1="484.2" y1="193.5" x2="512.5" y2="193.5" stroke-width="1.0" />
<rect x="512.5" y="179.5" width="7.0" height="15.0" fill="#fff" stroke-width="1.0" />
<path d="M519.3,178.3 L522.5,178.3 A10,9 0 0 1 532.5,187.3 L532.5,196.3 L517.4,196.3 L517.4,192.5 Q517.8,189 519.3,188.6 Z" fill="#fff" stroke-width="1.0" />
<line x1="519.3" y1="188.5" x2="532.5" y2="188.5" stroke-width="1.0" />
<line x1="519.5" y1="178.3" x2="519.5" y2="188.6" stroke-width="1.0" />
<polygon points="491.3,194.0 496.5,194.0 495.6,196.4 492.2,196.4" fill="#333" stroke="none"/>
<line x1="475.2" y1="147.5" x2="532.7" y2="147.5" stroke-width="1.0" />
<polygon points="475.2,147.0 478.4,146.0 478.4,148.0" fill="#1a1a1a" stroke="none"/>
<polygon points="532.7,147.0 529.5,146.0 529.5,148.0" fill="#1a1a1a" stroke="none"/>
<line x1="475.5" y1="147.0" x2="475.5" y2="167.4" stroke-width="1.0" />
<line x1="532.5" y1="147.0" x2="532.5" y2="188.0" stroke-width="1.0" />
<line x1="475.2" y1="158.5" x2="524.2" y2="158.5" stroke-width="1.0" />
<polygon points="475.2,158.3 478.4,157.3 478.4,159.3" fill="#1a1a1a" stroke="none"/>
<polygon points="524.2,158.3 521.0,157.3 521.0,159.3" fill="#1a1a1a" stroke="none"/>
<line x1="524.5" y1="158.3" x2="524.5" y2="179.0" stroke-width="1.0" />
<line x1="475.2" y1="169.5" x2="494.0" y2="169.5" stroke-width="1.0" />
<polygon points="475.2,169.3 478.4,168.3 478.4,170.3" fill="#1a1a1a" stroke="none"/>
<polygon points="494.0,169.3 490.8,168.3 490.8,170.3" fill="#1a1a1a" stroke="none"/>
<line x1="494.5" y1="169.3" x2="494.5" y2="193.6" stroke-width="1.0" />
<path d="M493.6,196.2 L504.4,218.5 L495.0,218.5" fill="none" stroke-width="1.0" />
<line x1="487.0" y1="410.5" x2="543.6" y2="410.5" stroke-width="1.0" />
<polygon points="505.3,410.4 508.5,409.4 508.5,411.4" fill="#1a1a1a" stroke="none"/>
<polygon points="543.6,410.4 540.4,409.4 540.4,411.4" fill="#1a1a1a" stroke="none"/>
<line x1="505.5" y1="384.0" x2="505.5" y2="410.4" stroke-width="1.0" />
<line x1="543.5" y1="384.0" x2="543.5" y2="410.4" stroke-width="1.0" />
<line x1="518.5" y1="196.3" x2="518.5" y2="235.3" stroke-width="1.0" />
<line x1="530.5" y1="196.3" x2="530.5" y2="235.3" stroke-width="1.0" />
<line x1="519.5" y1="255.3" x2="519.5" y2="369.4" stroke-width="1.0" />
<line x1="529.5" y1="255.3" x2="529.5" y2="369.4" stroke-width="1.0" />
<line x1="518.5" y1="389.2" x2="518.5" y2="465.3" stroke-width="1.0" />
<line x1="529.5" y1="389.2" x2="529.5" y2="465.3" stroke-width="1.0" />
<rect x="517.5" y="235.5" width="14.0" height="5.0" fill="#fff" stroke-width="1.0" />
<rect x="517.5" y="250.5" width="14.0" height="5.0" fill="#fff" stroke-width="1.0" />
<path d="M517.2,240.5 Q515.3,245.5 517.2,250.5 L531.8,250.5 Q533.7,245.5 531.8,240.5 Z" fill="#fff" stroke-width="1.0" />
<rect x="517.5" y="369.5" width="14.0" height="5.0" fill="#fff" stroke-width="1.0" />
<rect x="517.5" y="384.5" width="14.0" height="5.0" fill="#fff" stroke-width="1.0" />
<path d="M517.2,374.59999999999997 Q515.3,379.5 517.2,384.4 L531.8,384.4 Q533.7,379.5 531.8,374.59999999999997 Z" fill="#fff" stroke-width="1.0" />
<circle cx="524.3" cy="379.4" r="4.1" fill="#fff" stroke-width="1.0"/>
<line x1="520.2" y1="379.5" x2="528.4" y2="379.5" stroke-width="0.6" />
<line x1="524.5" y1="375.3" x2="524.5" y2="383.5" stroke-width="0.6" />
<line x1="498.3" y1="379.5" x2="550.7" y2="379.5" class="cl"/>
<line x1="498.2" y1="245.5" x2="550.0" y2="245.5" class="cl"/>
<line x1="524.5" y1="197.4" x2="524.5" y2="486" class="cl"/>
<rect x="516.5" y="465.5" width="15.0" height="2.0" fill="#fff" stroke-width="1.0" />
<polygon points="517.0999999999999,467.5 531.3,467.5 532.6999999999999,470.5 515.6999999999999,470.5" fill="#fff" stroke-width="1.0"/>
<rect x="508.5" y="470.5" width="31.0" height="4.0" fill="#fff" stroke-width="1.0" />
<line x1="524.5" y1="462" x2="524.5" y2="486" class="cl"/>
<line x1="519.3" y1="187.5" x2="532.5" y2="187.5" class="cl"/>
<line x1="524.5" y1="178.3" x2="524.5" y2="196.3" class="cl"/>
</g>
<text x="280.1" y="153.0" class="sans" font-size="8.6" text-anchor="start" textLength="38.4" lengthAdjust="spacingAndGlyphs" >538±1.5%</text>
<text x="280.2" y="165.4" class="sans" font-size="8.6" text-anchor="start" textLength="38.3" lengthAdjust="spacingAndGlyphs" >465±1.5%</text>
<text x="190.2" y="228.1" class="sans" font-size="8.6" text-anchor="start" textLength="21.7" lengthAdjust="spacingAndGlyphs" transform="rotate(-90 190.2 228.1)" >197.5</text>
<text x="190.5" y="324.0" class="sans" font-size="8.6" text-anchor="start" textLength="23.0" lengthAdjust="spacingAndGlyphs" transform="rotate(-90 190.5 324.0)" >420±1</text>
<text x="162.1" y="339.3" class="sans" font-size="8.6" text-anchor="start" textLength="31.4" lengthAdjust="spacingAndGlyphs" transform="rotate(-90 162.1 339.3)" >963±2.0</text>
<text x="190.3" y="417.3" class="sans" font-size="8.6" text-anchor="start" textLength="11.3" lengthAdjust="spacingAndGlyphs" transform="rotate(-90 190.3 417.3)" >205</text>
<text x="190.3" y="465.6" class="sans" font-size="8.6" text-anchor="start" textLength="12.9" lengthAdjust="spacingAndGlyphs" transform="rotate(-90 190.3 465.6)" >104</text>
<text x="325.2" y="220.8" class="sans" font-size="8.6" text-anchor="start" textLength="16.4" lengthAdjust="spacingAndGlyphs" >4-86</text>
<text x="385.3" y="282.5" class="sans" font-size="8.6" text-anchor="start" textLength="15.5" lengthAdjust="spacingAndGlyphs" >Ø32</text>
<text x="247.5" y="277.2" class="sans" font-size="8.6" text-anchor="start" textLength="14.0" lengthAdjust="spacingAndGlyphs" transform="rotate(-90 247.5 277.2)" >ø25</text>
<text x="389.3" y="345.0" class="sans" font-size="7.0" text-anchor="start" textLength="23.0" lengthAdjust="spacingAndGlyphs" >2-G1/2"</text>
<text x="292.9" y="407.8" class="sans" font-size="8.6" text-anchor="start" textLength="12.7" lengthAdjust="spacingAndGlyphs" >178</text>
<text x="283.5" y="422.9" class="sans" font-size="8.6" text-anchor="start" textLength="31.3" lengthAdjust="spacingAndGlyphs" >243±2.0</text>
<text x="292.9" y="444.4" class="sans" font-size="8.6" text-anchor="start" textLength="12.7" lengthAdjust="spacingAndGlyphs" >393</text>
<text x="233.1" y="430.2" class="sans" font-size="8.5" text-anchor="start" textLength="8.2" lengthAdjust="spacingAndGlyphs" >20</text>
<text x="260.6" y="475.6" class="sans" font-size="10.7" text-anchor="start" textLength="37.1" lengthAdjust="spacingAndGlyphs" >2-G1/2"</text>
<text x="488.7" y="146.6" class="sans" font-size="8.6" text-anchor="start" textLength="30.3" lengthAdjust="spacingAndGlyphs" >155±2.0</text>
<text x="492.7" y="158.0" class="sans" font-size="8.6" text-anchor="start" textLength="12.9" lengthAdjust="spacingAndGlyphs" >132</text>
<text x="480.1" y="169.0" class="sans" font-size="8.6" text-anchor="start" textLength="8.2" lengthAdjust="spacingAndGlyphs" >50</text>
<text x="487.5" y="409.7" class="sans" font-size="8.6" text-anchor="start" textLength="12.9" lengthAdjust="spacingAndGlyphs" >100</text>
<text class="serif" font-size="9.0" text-anchor="middle" transform="translate(496.8 225.9) scale(0.939 1)">v</text>
<text class="serif" font-size="9.0" text-anchor="middle" transform="translate(505.6 225.9) scale(0.939 1)">n</text>
<text class="serif" font-size="9.0" text-anchor="middle" x="479.2 483.6 488.0 501.2 510.0" y="225.9">airet</text>
</svg></body></html>
